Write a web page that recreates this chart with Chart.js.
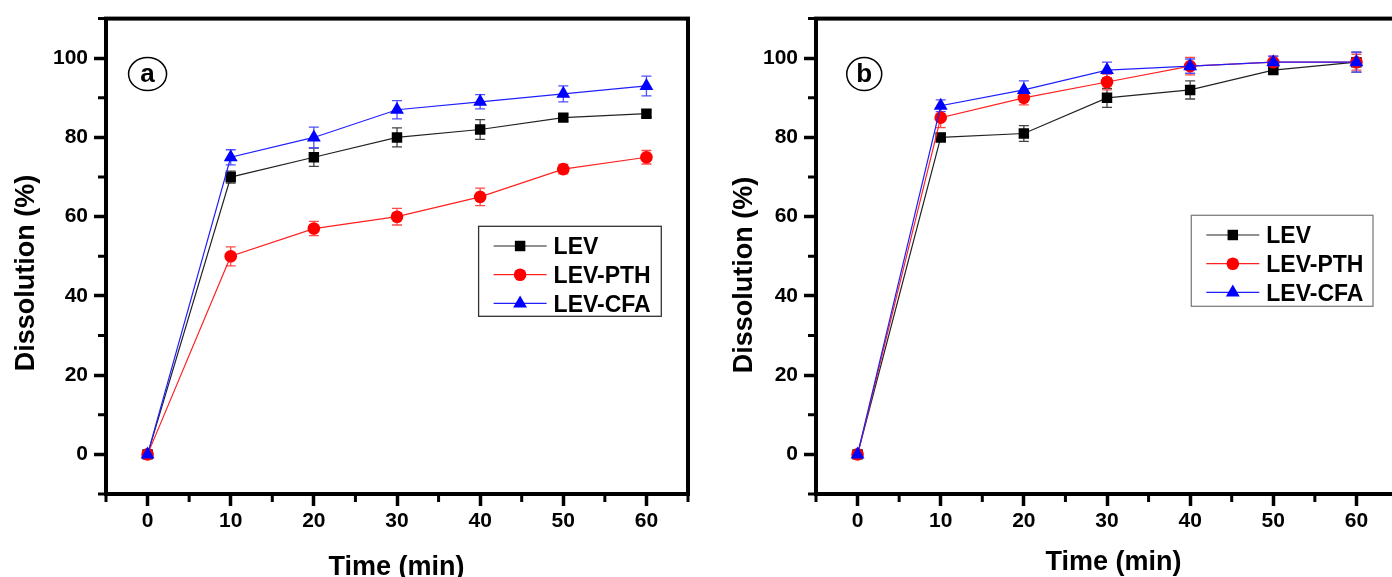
<!DOCTYPE html>
<html>
<head>
<meta charset="utf-8">
<script src="https://cdn.jsdelivr.net/npm/chart.js@4.4.0/dist/chart.umd.min.js"></script>
<style>
  html, body { margin: 0; padding: 0; background: #fff; overflow: hidden; }
  body { width: 1392px; height: 577px; position: relative; }
  .panel { position: absolute; top: 0; width: 700px; height: 577px; }
  #panelA { left: 0; }
  #panelB { left: 710px; }
</style>
</head>
<body>
<div class="panel" id="panelA"><canvas id="chartA" width="700" height="577"></canvas></div>
<div class="panel" id="panelB"><canvas id="chartB" width="700" height="577"></canvas></div>
<script>
// sampling times (min)
const times = [0, 10, 20, 30, 40, 50, 60];

// panel (a) dissolution (%) and standard deviations
const levA    = [0, 70, 75, 80, 82, 85, 86];
const levErrA = [0, 1.5, 2.3, 2.4, 2.5, 0.9, 0.9];
const pthA    = [0, 50, 57, 60, 65, 72, 75];
const pthErrA = [0, 2.4, 1.8, 2.1, 2.2, 1.2, 1.7];
const cfaA    = [0, 75, 80, 87, 89, 91, 93];
const cfaErrA = [0, 1.9, 2.6, 2.3, 1.8, 2.0, 2.5];

// panel (b)
const levB    = [0, 80, 81, 90, 92, 97, 99];
const levErrB = [0, 1.0, 2.0, 2.4, 2.3, 0.8, 2.5];
const pthB    = [0, 85, 90, 94, 98, 99, 99];
const pthErrB = [0, 2.5, 1.8, 2.0, 2.2, 1.5, 2.0];
const cfaB    = [0, 88, 92, 97, 98, 99, 99];
const cfaErrB = [0, 1.5, 2.3, 2.0, 1.8, 1.5, 2.5];

const seriesNames = ['LEV', 'LEV-PTH', 'LEV-CFA'];
const xTickLabels = [0, 10, 20, 30, 40, 50, 60];
const yTickLabels = [0, 20, 40, 60, 80, 100];

const FONT = "'Liberation Sans', Arial, Helvetica, sans-serif";
const lineColors  = ['#222222', '#ff2020', '#2020ff'];
const markColors  = ['#000000', '#ff0000', '#0000ff'];
const errColors   = ['#444444', '#ff4a4a', '#5050ff'];
const pointStyles = ['rect', 'circle', 'triangle'];
const pointRadii  = [7.4, 6.3, 8];

function drawMarker(ctx, style, x, y, r, color) {
  ctx.fillStyle = color;
  ctx.beginPath();
  if (style === 'rect') {
    const s = r * Math.SQRT1_2;
    ctx.rect(x - s, y - s, 2 * s, 2 * s);
  } else if (style === 'circle') {
    ctx.arc(x, y, r, 0, Math.PI * 2);
  } else {
    const t = 2 * Math.PI / 3;
    ctx.moveTo(x, y - r);
    ctx.lineTo(x + r * Math.sin(t), y - r * Math.cos(t));
    ctx.lineTo(x + r * Math.sin(2 * t), y - r * Math.cos(2 * t));
  }
  ctx.closePath();
  ctx.fill();
}

// error bars, frame, minor ticks, legend, panel tag and axis titles
const decor = {
  id: 'decor',
  beforeDatasetsDraw(chart) {
    const { ctx, scales: { x, y } } = chart;
    ctx.save();
    ctx.lineWidth = 1.3;
    chart.data.datasets.forEach(ds => {
      ctx.strokeStyle = ds.errorColor;
      ds.data.forEach((p, j) => {
        const e = ds.errors[j];
        if (!e) return;
        const px = x.getPixelForValue(p.x);
        const y1 = y.getPixelForValue(p.y + e);
        const y2 = y.getPixelForValue(p.y - e);
        ctx.beginPath();
        ctx.moveTo(px, y1); ctx.lineTo(px, y2);
        ctx.moveTo(px - 5, y1); ctx.lineTo(px + 5, y1);
        ctx.moveTo(px - 5, y2); ctx.lineTo(px + 5, y2);
        ctx.stroke();
      });
    });
    ctx.restore();
  },
  afterDraw(chart, args, opts) {
    const { ctx, chartArea: a, scales: { x, y } } = chart;
    ctx.save();

    ctx.strokeStyle = '#000';
    ctx.lineWidth = 4;
    ctx.strokeRect(a.left, a.top, a.right - a.left, a.bottom - a.top);

    ctx.lineWidth = 3;
    ctx.beginPath();
    for (let v = y.min; v <= y.max; v += 10) {
      if (v % 20 === 0) continue;
      const py = y.getPixelForValue(v);
      ctx.moveTo(a.left, py); ctx.lineTo(a.left - 8, py);
    }
    for (let v = x.min; v <= x.max; v += 5) {
      if (v % 10 === 0) continue;
      const px = x.getPixelForValue(v);
      ctx.moveTo(px, a.bottom); ctx.lineTo(px, a.bottom + 8);
    }
    ctx.stroke();

    // legend
    const lg = opts.legend;
    const bx = a.left + lg.x, by = a.top + lg.y;
    ctx.lineWidth = 1.3;
    ctx.strokeStyle = lg.border;
    ctx.strokeRect(bx, by, lg.w, lg.h);
    ctx.font = 'bold 23px ' + FONT;
    ctx.textAlign = 'left';
    ctx.textBaseline = 'alphabetic';
    chart.data.datasets.forEach((ds, i) => {
      const ry = by + 19.7 + i * 28.7;
      ctx.strokeStyle = ds.borderColor;
      ctx.lineWidth = 1.2;
      ctx.beginPath();
      ctx.moveTo(bx + 15, ry); ctx.lineTo(bx + 68, ry);
      ctx.stroke();
      drawMarker(ctx, ds.pointStyle, bx + 41.5, ry, ds.pointRadius, ds.pointBackgroundColor);
      ctx.fillStyle = '#000';
      ctx.fillText(ds.label, bx + 75, ry + 8.2);
    });

    // panel tag
    const tg = opts.tag;
    const tx = x.getPixelForValue(tg.x), ty = y.getPixelForValue(tg.y);
    ctx.strokeStyle = '#000';
    ctx.lineWidth = 1.5;
    ctx.beginPath();
    ctx.ellipse(tx, ty, tg.rx, tg.ry, 0, 0, Math.PI * 2);
    ctx.stroke();
    ctx.fillStyle = '#000';
    ctx.font = 'bold 26px ' + FONT;
    ctx.textAlign = 'center';
    ctx.fillText(tg.text, tx, ty + 8);

    // axis titles
    ctx.font = 'bold 27px ' + FONT;
    ctx.fillText('Time (min)', opts.xTitle.x, opts.xTitle.y);
    ctx.translate(opts.yTitle.x, opts.yTitle.y);
    ctx.rotate(-Math.PI / 2);
    ctx.fillText('Dissolution (%)', 0, 0);
    ctx.restore();
  }
};

function makeDatasets(values, errors) {
  return values.map((vals, i) => ({
    label: seriesNames[i],
    data: times.map((t, j) => ({ x: t, y: vals[j] })),
    errors: errors[i],
    errorColor: errColors[i],
    borderColor: lineColors[i],
    backgroundColor: markColors[i],
    borderWidth: 1.2,
    tension: 0,
    pointStyle: pointStyles[i],
    pointRadius: pointRadii[i],
    pointHoverRadius: pointRadii[i],
    pointBorderWidth: 0,
    pointBackgroundColor: markColors[i],
    order: 3 - i
  }));
}

const tickFont = { family: FONT, size: 21, weight: 'bold', lineHeight: 1.2 };

function makeChart(id, datasets, decorOpts) {
  return new Chart(document.getElementById(id), {
    type: 'line',
    data: { datasets },
    options: {
      responsive: false,
      animation: false,
      events: [],
      layout: { padding: { top: 17, right: 12, left: 0, bottom: 0 } },
      plugins: {
        legend: { display: false },
        tooltip: { enabled: false },
        decor: decorOpts
      },
      scales: {
        x: {
          type: 'linear',
          min: -5,
          max: 65,
          afterFit: s => { s.height = 83; },
          border: { display: false },
          grid: {
            drawOnChartArea: false,
            tickLength: 12,
            tickWidth: 3.5,
            tickColor: c => (c.tick && c.tick.value % 10 === 0) ? '#000' : 'rgba(0,0,0,0)'
          },
          ticks: {
            stepSize: 5,
            autoSkip: false,
            maxRotation: 0,
            padding: 3,
            color: '#000',
            font: tickFont,
            callback: v => xTickLabels.includes(v) ? String(v) : ''
          }
        },
        y: {
          min: -10,
          max: 110,
          afterFit: s => { s.width = 106; },
          border: { display: false },
          grid: {
            drawOnChartArea: false,
            tickLength: 12,
            tickWidth: 3.5,
            tickColor: c => (c.tick && c.tick.value % 20 === 0) ? '#000' : 'rgba(0,0,0,0)'
          },
          ticks: {
            stepSize: 10,
            autoSkip: false,
            padding: 6,
            color: '#000',
            font: tickFont,
            callback: v => yTickLabels.includes(v) ? String(v) : ''
          }
        }
      }
    },
    plugins: [decor]
  });
}

makeChart('chartA',
  makeDatasets([levA, pthA, cfaA], [levErrA, pthErrA, cfaErrA]),
  {
    legend: { x: 372.6, y: 207.7, w: 182.7, h: 90, border: '#333333' },
    tag: { text: 'a', x: 0, y: 96, rx: 19, ry: 16.5 },
    xTitle: { x: 396.5, y: 575 },
    yTitle: { x: 33.5, y: 273 }
  });

makeChart('chartB',
  makeDatasets([levB, pthB, cfaB], [levErrB, pthErrB, cfaErrB]),
  {
    legend: { x: 375.3, y: 196.7, w: 181.7, h: 91, border: '#808080' },
    tag: { text: 'b', x: 0.8, y: 96, rx: 17.5, ry: 16.5 },
    xTitle: { x: 403.6, y: 570 },
    yTitle: { x: 41.5, y: 275 }
  });
</script>
</body>
</html>
